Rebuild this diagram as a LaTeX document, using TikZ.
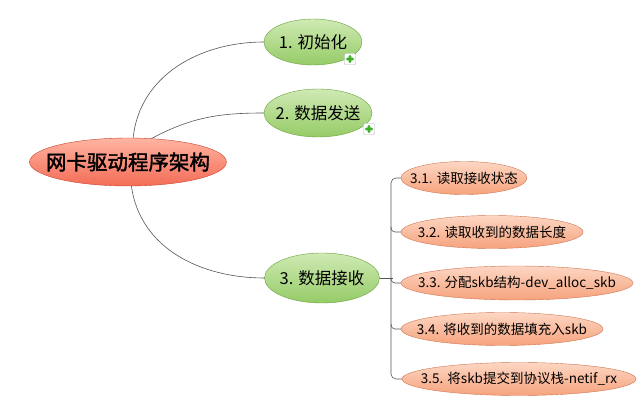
\documentclass[tikz,border=0pt]{standalone}
\usepackage{fontspec}
\setmainfont{Noto Sans CJK SC}
\newfontfamily\rootfont[FakeBold=1.8]{Noto Sans CJK SC}
\usetikzlibrary{shapes.geometric}
\definecolor{RootDark}{HTML}{EE4E36}
\definecolor{RootLight}{HTML}{FFB4A2}
\definecolor{LeafDark}{HTML}{7DBE45}
\definecolor{LeafLight}{HTML}{CFEAB4}
\definecolor{SubDark}{HTML}{F38C5E}
\definecolor{SubLight}{HTML}{FDD6C3}
\definecolor{LinkGray}{HTML}{555555}
\definecolor{PlusGreen}{HTML}{3FAE2A}

\begin{document}
\begin{tikzpicture}[x=1pt, y=1pt,
  every node/.style={align=center, inner xsep=-40pt, inner ysep=-20pt},
  bubble/.style={ellipse, line width=0.4pt},
  rootbubble/.style={bubble, draw=RootDark!85!black, top color=RootLight, middle color=RootDark, bottom color=RootDark!70!RootLight, font=\rootfont\fontsize{20.5}{22}\selectfont},
  leafbubble/.style={bubble, draw=LeafDark!85!black, top color=LeafLight, middle color=LeafDark, bottom color=LeafDark!70!LeafLight, font=\fontsize{16.5}{18}\selectfont},
  subbubble/.style={bubble, draw=SubDark!85!black, top color=SubLight, middle color=SubDark, bottom color=SubDark!70!SubLight, minimum height=33pt, font=\fontsize{13.5}{15}\selectfont},
  plusbox/.style={draw=gray!60, fill=white, minimum size=11pt, inner sep=0pt, rounded corners=1pt,
    path picture={
      \fill[PlusGreen] ([xshift=-3.8pt,yshift=-1.3pt]path picture bounding box.center) rectangle ([xshift=3.8pt,yshift=1.3pt]path picture bounding box.center);
      \fill[PlusGreen] ([xshift=-1.3pt,yshift=-3.8pt]path picture bounding box.center) rectangle ([xshift=1.3pt,yshift=3.8pt]path picture bounding box.center);}},
  link/.style={draw=LinkGray, line width=0.6pt}]
  \fill[white] (0,0) rectangle (641,405);
  \useasboundingbox (0,0) rectangle (641,405);

  % main topic
  \node[rootbubble, minimum width=197pt, minimum height=48pt] (root) at (128,243) {网卡驱动程序架构};

  % first level
  \node[leafbubble, minimum width=98pt, minimum height=46pt] (init) at (313,363) {1. 初始化};
  \node[leafbubble, minimum width=108pt, minimum height=48pt] (send) at (318,292) {2. 数据发送};
  \node[leafbubble, minimum width=115pt, minimum height=50pt] (recv) at (322,127) {3. 数据接收};
  \node[plusbox] (initplus) at (350,346) {};
  \node[plusbox] (sendplus) at (369,276) {};

  % second level under 3.
  \node[subbubble, minimum width=126pt] (read) at (464,227) {3.1. 读取接收状态};
  \node[subbubble, minimum width=182pt] (len) at (492,173) {3.2. 读取收到的数据长度};
  \node[subbubble, minimum width=232pt, minimum height=34pt] (alloc) at (517,122) {3.3. 分配skb结构-dev\_alloc\_skb};
  \node[subbubble, minimum width=202pt] (fill) at (502,76) {3.4. 将收到的数据填充入skb};
  \node[subbubble, minimum width=234pt] (push) at (519,26) {3.5. 将skb提交到协议栈-netif\_rx};

  % links
  \draw[link] (root.78) to[out=84, in=180] (init.west);
  \draw[link] (root.45) to[out=28, in=180] (send.west);
  \draw[link] (root.-82) to[out=-82, in=180] (recv.west);

  \coordinate (trunk) at (391,0);
  \draw[link] (recv.east) -- ([xshift=2pt]recv.east -| trunk);
  \draw[link, rounded corners=5pt] (read.west) -- (read.west -| trunk) -- (push.west -| trunk) -- (push.west);
  \draw[link, rounded corners=4pt] ([yshift=5pt]len.west -| trunk) |- (len.west);
  \draw[link, rounded corners=4pt] ([yshift=5pt]alloc.west -| trunk) |- (alloc.west);
  \draw[link, rounded corners=4pt] ([yshift=5pt]fill.west -| trunk) |- (fill.west);
\end{tikzpicture}
\end{document}
